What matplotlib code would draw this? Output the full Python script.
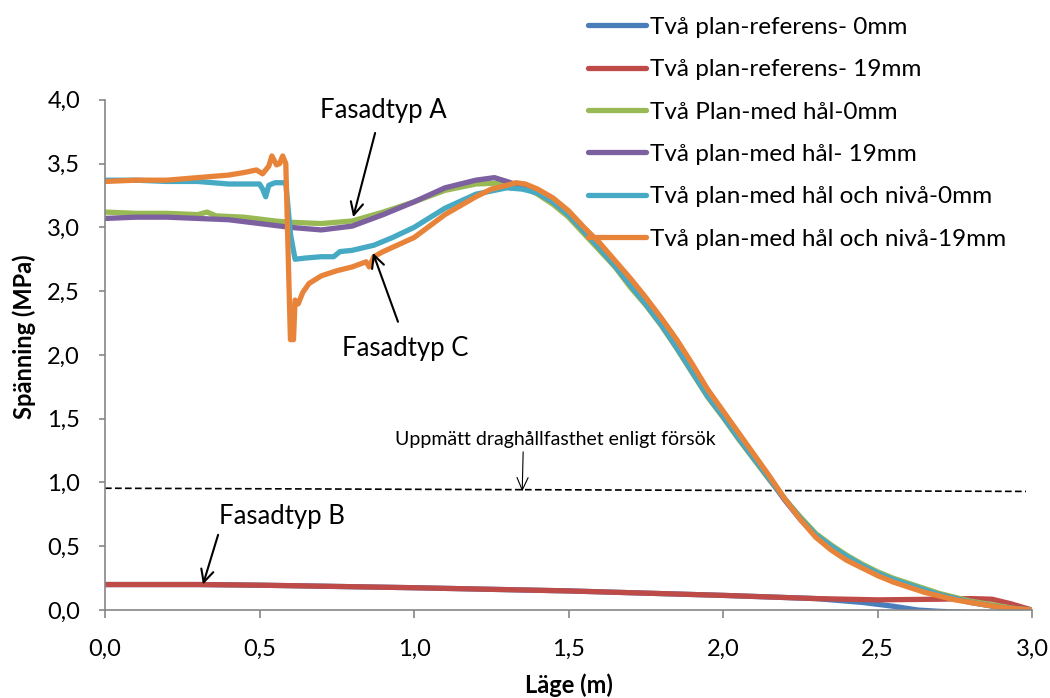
import numpy as np
import matplotlib
matplotlib.use("Agg")
import matplotlib.pyplot as plt
from matplotlib.ticker import FuncFormatter, MultipleLocator

plt.rcParams['font.family'] = ['Lato', 'DejaVu Sans']

# Två plan-referens- 0mm
ref0_x = [0.0, 0.3, 0.5, 1.0, 1.5, 2.0, 2.3, 2.45, 2.55, 2.63, 2.7, 2.8, 3.0]
ref0_y = [0.20, 0.20, 0.195, 0.175, 0.15, 0.115, 0.09, 0.06, 0.03, 0.0, -0.01, -0.02, -0.02]

# Två plan-referens- 19mm
ref19_x = [0.0, 0.3, 0.5, 1.0, 1.5, 2.0, 2.3, 2.5, 2.7, 2.8, 2.87, 2.93, 3.0]
ref19_y = [0.20, 0.20, 0.195, 0.175, 0.15, 0.115, 0.09, 0.08, 0.085, 0.09, 0.085, 0.05, 0.0]

# Två Plan-med hål-0mm
hal0_x = [0.0, 0.1, 0.2, 0.3, 0.33, 0.36, 0.45, 0.55, 0.6, 0.7, 0.8, 0.9, 1.0, 1.1, 1.2,
          1.3, 1.35, 1.4, 1.45, 1.5, 1.55, 1.6, 1.65, 1.7, 1.75, 1.8, 1.85, 1.9, 1.95,
          2.0, 2.05, 2.1, 2.15, 2.2, 2.25, 2.3, 2.35, 2.4, 2.45, 2.5, 2.55, 2.6, 2.65,
          2.7, 2.75, 2.8, 2.85, 2.9, 2.95, 3.0]
hal0_y = [3.12, 3.11, 3.11, 3.10, 3.12, 3.09, 3.08, 3.05, 3.04, 3.03, 3.05, 3.12, 3.20, 3.29, 3.34,
          3.35, 3.32, 3.26, 3.18, 3.08, 2.95, 2.82, 2.69, 2.53, 2.39, 2.23, 2.05, 1.86, 1.67,
          1.51, 1.34, 1.18, 1.02, 0.87, 0.73, 0.60, 0.51, 0.43, 0.36, 0.30, 0.25, 0.21, 0.17,
          0.13, 0.10, 0.07, 0.05, 0.03, 0.01, 0.0]

# Två plan-med hål- 19mm
hal19_x = [0.0, 0.1, 0.2, 0.3, 0.4, 0.5, 0.6, 0.7, 0.8, 0.9, 1.0, 1.1, 1.2, 1.26,
           1.3, 1.35, 1.4, 1.45, 1.5, 1.55, 1.6, 1.65, 1.7, 1.75, 1.8, 1.85, 1.9, 1.95,
           2.0, 2.05, 2.1, 2.15, 2.2, 2.25, 2.3, 2.35, 2.4, 2.45, 2.5, 2.55, 2.6, 2.65,
           2.7, 2.75, 2.8, 2.85, 2.9, 2.95, 3.0]
hal19_y = [3.07, 3.08, 3.08, 3.07, 3.06, 3.03, 3.00, 2.98, 3.01, 3.10, 3.20, 3.31, 3.37, 3.39,
           3.36, 3.32, 3.27, 3.20, 3.10, 2.97, 2.84, 2.70, 2.55, 2.40, 2.24, 2.06, 1.87, 1.68,
           1.52, 1.35, 1.19, 1.03, 0.86, 0.71, 0.58, 0.49, 0.41, 0.34, 0.28, 0.23, 0.19, 0.15,
           0.12, 0.09, 0.06, 0.04, 0.02, 0.01, 0.0]

# Två plan-med hål och nivå-0mm
niva0_x = [0.0, 0.1, 0.2, 0.3, 0.4, 0.5, 0.51, 0.52, 0.53, 0.55, 0.585, 0.6, 0.615, 0.65,
           0.7, 0.74, 0.76, 0.8, 0.87, 0.93, 1.0, 1.1, 1.2, 1.3, 1.35, 1.4, 1.45, 1.5, 1.55,
           1.6, 1.65, 1.7, 1.75, 1.8, 1.85, 1.9, 1.95, 2.0, 2.05, 2.1, 2.15, 2.2, 2.25,
           2.3, 2.35, 2.4, 2.45, 2.5, 2.55, 2.6, 2.65, 2.7, 2.75, 2.8, 2.85, 2.9, 2.95, 3.0]
niva0_y = [3.37, 3.37, 3.36, 3.36, 3.34, 3.34, 3.30, 3.24, 3.33, 3.35, 3.35, 2.95, 2.75, 2.76,
           2.77, 2.77, 2.81, 2.82, 2.86, 2.92, 3.00, 3.15, 3.26, 3.31, 3.30, 3.27, 3.20, 3.10, 2.97,
           2.84, 2.70, 2.55, 2.40, 2.24, 2.06, 1.87, 1.68, 1.52, 1.35, 1.19, 1.03, 0.87, 0.72,
           0.59, 0.50, 0.42, 0.35, 0.29, 0.24, 0.20, 0.16, 0.12, 0.09, 0.06, 0.04, 0.02, 0.01, 0.0]

# Två plan-med hål och nivå-19mm
niva19_x = [0.0, 0.1, 0.2, 0.3, 0.4, 0.45, 0.49, 0.51, 0.53, 0.54, 0.555, 0.565, 0.575, 0.585,
            0.6, 0.61, 0.615, 0.625, 0.64, 0.66, 0.7, 0.75, 0.8, 0.845, 0.855, 0.87, 0.9, 1.0,
            1.1, 1.2, 1.25, 1.3, 1.33, 1.36, 1.4, 1.45, 1.5, 1.55, 1.6, 1.65, 1.7, 1.75, 1.8,
            1.85, 1.9, 1.95, 2.0, 2.05, 2.1, 2.15, 2.2, 2.25, 2.3, 2.35, 2.4, 2.45, 2.5, 2.55,
            2.6, 2.65, 2.7, 2.75, 2.8, 2.85, 2.9, 2.95, 3.0]
niva19_y = [3.36, 3.37, 3.37, 3.39, 3.41, 3.43, 3.45, 3.42, 3.48, 3.56, 3.49, 3.50, 3.56, 3.50,
            2.12, 2.12, 2.43, 2.40, 2.49, 2.56, 2.62, 2.66, 2.69, 2.73, 2.69, 2.77, 2.81, 2.92,
            3.10, 3.24, 3.30, 3.33, 3.35, 3.34, 3.30, 3.23, 3.13, 3.00, 2.88, 2.74, 2.60, 2.45, 2.29,
            2.12, 1.93, 1.73, 1.56, 1.39, 1.22, 1.05, 0.87, 0.71, 0.57, 0.47, 0.39, 0.33, 0.27, 0.22,
            0.18, 0.14, 0.11, 0.08, 0.06, 0.04, 0.02, 0.01, 0.0]

series = [
    ("Två plan-referens- 0mm", ref0_x, ref0_y, "#4A7EBB"),
    ("Två plan-referens- 19mm", ref19_x, ref19_y, "#BE4B48"),
    ("Två Plan-med hål-0mm", hal0_x, hal0_y, "#98B954"),
    ("Två plan-med hål- 19mm", hal19_x, hal19_y, "#7D60A0"),
    ("Två plan-med hål och nivå-0mm", niva0_x, niva0_y, "#46AAC5"),
    ("Två plan-med hål och nivå-19mm", niva19_x, niva19_y, "#E8843A"),
]

# measured tensile strength line
limit_x = [0.0, 2.98]
limit_y = [0.955, 0.93]

fig = plt.figure(figsize=(10.5, 6.98), dpi=100)
ax = fig.add_axes([0.1, 0.126, 0.883, 0.731])

ax.plot(limit_x, limit_y, color="black", lw=1.2, dashes=(4, 2), zorder=1)
for label, xs, ys, c in series:
    ax.plot(xs, ys, color=c, lw=3.8, label=label, solid_capstyle="round", zorder=2)

ax.set_xlim(0, 3.0)
ax.set_ylim(0, 4.0)
ax.xaxis.set_major_locator(MultipleLocator(0.5))
ax.yaxis.set_major_locator(MultipleLocator(0.5))
fmt = FuncFormatter(lambda v, p: f"{v:.1f}".replace(".", ","))
ax.xaxis.set_major_formatter(fmt)
ax.yaxis.set_major_formatter(fmt)
for s in ["top", "right"]:
    ax.spines[s].set_visible(False)
for s in ["left", "bottom"]:
    ax.spines[s].set_color("#868686")
    ax.spines[s].set_linewidth(1.2)
ax.tick_params(axis="both", colors="#868686", labelcolor="black", labelsize=17,
               width=1.2)
ax.tick_params(axis="x", length=6, pad=15)
ax.tick_params(axis="y", length=4, pad=14)

ax.set_ylabel("Spänning (MPa)", fontsize=17, fontweight="bold")
ax.yaxis.set_label_coords(-0.074, 0.535)
ax.set_xlabel("Läge (m)", fontsize=17, fontweight="bold")
ax.xaxis.set_label_coords(0.5, -0.124)

arrow = dict(arrowstyle="->, head_length=0.9, head_width=0.45", color="black", lw=1.5,
             shrinkA=0, shrinkB=0)
ax.annotate("", xy=(0.803, 3.08), xytext=(0.874, 3.74), arrowprops=arrow)
ax.text(0.90, 3.92, "Fasadtyp A", fontsize=18.5, ha="center", va="center")
ax.annotate("", xy=(0.867, 2.80), xytext=(0.948, 2.26), arrowprops=arrow)
ax.text(0.97, 2.05, "Fasadtyp C", fontsize=18.5, ha="center", va="center")
ax.annotate("", xy=(0.317, 0.20), xytext=(0.366, 0.59), arrowprops=arrow)
ax.text(0.573, 0.73, "Fasadtyp B", fontsize=18.5, ha="center", va="center")
ax.annotate("", xy=(1.35, 0.93), xytext=(1.353, 1.24),
            arrowprops=dict(arrowstyle="->, head_length=0.9, head_width=0.4", color="black",
                            lw=0.8, shrinkA=0, shrinkB=0))
ax.text(1.456, 1.335, "Uppmätt draghållfasthet enligt försök", fontsize=14,
        ha="center", va="center")

fig.legend(loc="upper left", bbox_to_anchor=(578 / 1050, 1 - 7 / 698), frameon=False,
           fontsize=17.5, handlelength=2.4, labelspacing=0.88, handletextpad=0.15,
           borderaxespad=0)

fig.savefig("out.png", dpi=100)
